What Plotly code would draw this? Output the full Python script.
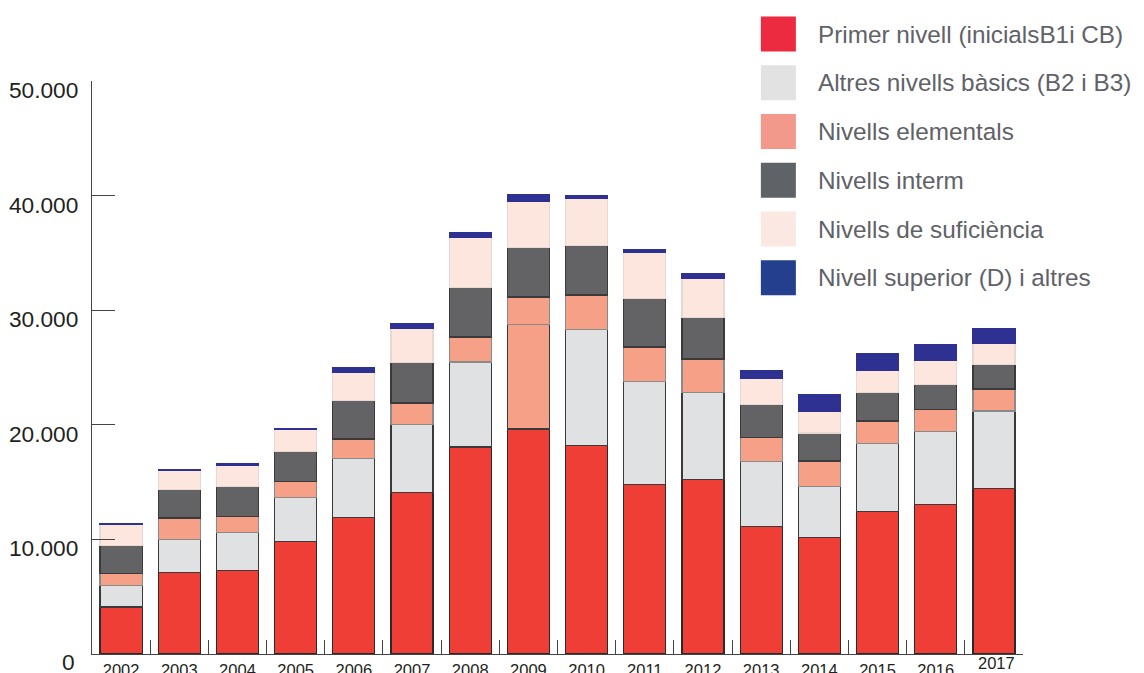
import plotly.graph_objects as go

years = ["2002", "2003", "2004", "2005", "2006", "2007", "2008", "2009",
         "2010", "2011", "2012", "2013", "2014", "2015", "2016", "2017"]

series_names = [
    "Primer nivell (inicialsB1i CB)",
    "Altres nivells bàsics (B2 i B3)",
    "Nivells elementals",
    "Nivells interm",
    "Nivells de suficiència",
    "Nivell superior (D) i altres",
]

primer = [4100, 7120, 7320, 9830, 11940, 14100, 18070, 19640,
          18220, 14760, 15200, 11130, 10200, 12440, 13080, 14410]
altres_basics = [1850, 2880, 3290, 3860, 5150, 5950, 7410, 9110,
                 10090, 9010, 7640, 5700, 4420, 5930, 6340, 6800]
elementals = [1090, 1860, 1360, 1390, 1680, 1860, 2180, 2400,
              3020, 3020, 2910, 2060, 2230, 1970, 1910, 1920]
interm = [2440, 2500, 2650, 2620, 3370, 3550, 4340, 4330,
          4330, 4250, 3630, 2910, 2440, 2500, 2210, 2130]
suficiencia = [1830, 1620, 1880, 1890, 2470, 2990, 4330, 4040,
               4120, 4030, 3430, 2260, 1920, 1890, 2070, 1880]
superior = [110, 120, 150, 110, 410, 410, 440, 580,
            180, 240, 410, 700, 1460, 1450, 1420, 1280]

y_tickvals = [0, 10000, 20000, 30000, 40000, 50000]
y_ticktext = ["0", "10.000", "20.000", "30.000", "40.000", "50.000"]

series_values = [primer, altres_basics, elementals, interm, suficiencia, superior]
bar_colors = ["#EE3E36", "#E0E1E3", "#F6A088", "#636365", "#FCE6DD", "#2E3192"]
line_colors = ["#2a2a2a", "#3a3a3a", "#8a8a8a", "#3a3a3a", "#e8d8d2", "#2E3192"]
legend_colors = ["#EC2A40", "#E2E2E2", "#F2998B", "#5F6266", "#FBE8E3", "#243F8E"]

# In the source the 2009 "bàsics" segment is drawn in the salmon colour
basics_colors = [bar_colors[1]] * len(years)
basics_colors[years.index("2009")] = bar_colors[2]

W, H = 1144, 673
L, R = 92.2, 1023.1          # plot area (pixels)
T, B = 80.5, 654.0
FONT = "Liberation Sans, Arial, sans-serif"

fig = go.Figure()
for i, (name, vals) in enumerate(zip(series_names, series_values)):
    color = basics_colors if i == 1 else bar_colors[i]
    fig.add_trace(go.Bar(
        x=years, y=vals, name=name,
        marker=dict(color=color, line=dict(color=line_colors[i], width=1.2)),
        showlegend=False,
    ))

# Custom legend (large squares + text)
def px_to_paper_x(px):
    return (px - L) / (R - L)

def px_to_paper_y(py):
    return (B - py) / (B - T)

leg_x0, leg_size, leg_top, leg_step = 761, 35, 16, 48.8
for i, name in enumerate(series_names):
    top = leg_top + i * leg_step
    fig.add_shape(type="rect", xref="paper", yref="paper",
                  x0=px_to_paper_x(leg_x0), x1=px_to_paper_x(leg_x0 + leg_size),
                  y0=px_to_paper_y(top + leg_size), y1=px_to_paper_y(top),
                  fillcolor=legend_colors[i], line=dict(width=0))
    fig.add_annotation(xref="paper", yref="paper",
                       x=px_to_paper_x(816), y=px_to_paper_y(top + leg_size / 2),
                       xanchor="left", yanchor="middle", showarrow=False,
                       text=name,
                       font=dict(family=FONT, size=24.3, color="#606268"))

# x tick labels: the last year label sits a little higher in the source
x_ticktext = list(years)
x_ticktext[-1] = ""
last_idx = len(years) - 1
fig.add_annotation(xref="paper", yref="paper",
                   x=(last_idx + 0.5) / len(years) + 2.5 / (R - L),
                   y=px_to_paper_y(663),
                   xanchor="center", yanchor="middle", showarrow=False,
                   text=years[-1], font=dict(family=FONT, size=16.5, color="#231f20"))

# y "0" label (sits below the axis line)
fig.add_annotation(xref="paper", yref="paper", x=px_to_paper_x(77), y=px_to_paper_y(662),
                   xanchor="right", yanchor="middle", showarrow=False,
                   text=y_ticktext[0], font=dict(family=FONT, size=22.7, color="#231f20"))
y_ticktext_axis = [""] + y_ticktext[1:]

fig.update_layout(
    width=W, height=H,
    margin=dict(l=L, r=W - R, t=T, b=H - B, pad=0, autoexpand=False),
    barmode="stack", bargap=0.278,
    plot_bgcolor="white", paper_bgcolor="white",
    font=dict(family=FONT, color="#231f20"),
)
fig.update_xaxes(
    type="category", range=[-0.5, 15.5], automargin=False,
    tickvals=years, ticktext=x_ticktext,
    showline=True, linecolor="#444", linewidth=1.3,
    ticks="inside", tickson="boundaries", ticklen=14, tickcolor="#444", tickwidth=1.2,
    showgrid=False, tickfont=dict(size=16.5, color="#231f20"),
    ticklabelstandoff=1,
)
fig.update_yaxes(
    range=[0, 50000], tickvals=y_tickvals, ticktext=y_ticktext_axis, automargin=False,
    showline=True, linecolor="#444", linewidth=1.3,
    ticks="inside", ticklen=23, tickcolor="#444", tickwidth=1.2,
    showgrid=False, zeroline=False, tickfont=dict(size=22.7, color="#231f20"),
    ticklabelstandoff=8, ticklabelshift=9,
)

fig.write_html(
    "out.html",
    config={"displayModeBar": False},
    post_script="document.body.style.margin='0';document.body.style.overflow='hidden';",
)
